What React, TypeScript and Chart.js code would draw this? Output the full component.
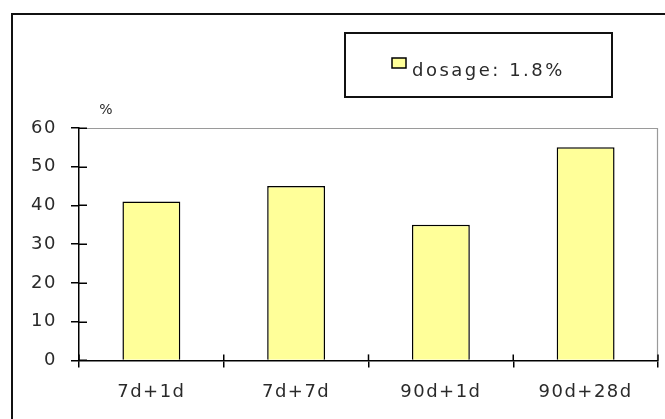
import React, { useEffect, useRef } from 'react';
import { Chart, registerables } from 'chart.js';

Chart.register(...registerables);

const categories = ['7d+1d', '7d+7d', '90d+1d', '90d+28d'];
const dosageValues = [41, 45, 35, 55];
const seriesLabel = 'dosage: 1.8%';
const yMin = 0;
const yMax = 60;
const yStep = 10;
const yUnit = '%';

const FONT = '"DejaVu Sans", sans-serif';
const TEXT = '#2a2a2a';
const BAR = '#FFFF99';
const SPACING = '1.5px';

export default function App() {
  const ref = useRef<HTMLCanvasElement>(null);

  useEffect(() => {
    document.body.style.margin = '0';
    const canvas = ref.current;
    if (!canvas) return;

    const spacing = {
      id: 'spacing',
      beforeLayout(c: any) { (c.ctx as any).letterSpacing = SPACING; },
      beforeDraw(c: any) { (c.ctx as any).letterSpacing = SPACING; },
    };

    const decor = {
      id: 'decor',
      beforeDraw(c: any) {
        const ctx = c.ctx as CanvasRenderingContext2D;
        const a = c.chartArea;
        ctx.save();
        ctx.fillStyle = '#ffffff';
        ctx.fillRect(0, 0, c.width, c.height);
        // outer frame
        ctx.strokeStyle = '#111111';
        ctx.lineWidth = 2;
        ctx.beginPath();
        ctx.moveTo(12, c.height);
        ctx.lineTo(12, 14);
        ctx.lineTo(c.width, 14);
        ctx.stroke();
        // plot area top/right border
        ctx.strokeStyle = '#9a9a9a';
        ctx.lineWidth = 1.2;
        ctx.beginPath();
        ctx.moveTo(a.left, a.top + 0.5);
        ctx.lineTo(a.right - 0.5, a.top + 0.5);
        ctx.lineTo(a.right - 0.5, a.bottom);
        ctx.stroke();
        ctx.restore();
      },
      afterDraw(c: any) {
        const ctx = c.ctx as CanvasRenderingContext2D;
        const a = c.chartArea;
        const ys = c.scales.y;
        const xs = c.scales.x;
        ctx.save();
        ctx.strokeStyle = '#000000';
        ctx.lineWidth = 1.5;
        // inward halves of the crossing ticks
        ys.ticks.forEach((_t: any, i: number) => {
          const py = Math.round(ys.getPixelForTick(i)) + 0.25;
          ctx.beginPath();
          ctx.moveTo(a.left, py);
          ctx.lineTo(a.left + 8, py);
          ctx.stroke();
        });
        for (let i = 0; i <= categories.length; i++) {
          const px = xs.getPixelForValue(i - 0.5);
          ctx.beginPath();
          ctx.moveTo(px, a.bottom);
          ctx.lineTo(px, a.bottom - 6);
          ctx.stroke();
        }
        // unit label
        (ctx as any).letterSpacing = '0px';
        ctx.fillStyle = TEXT;
        ctx.font = `14px ${FONT}`;
        ctx.textAlign = 'center';
        ctx.textBaseline = 'middle';
        ctx.fillText(yUnit, 106, 110);
        // legend box
        const ds = c.data.datasets[0];
        ctx.strokeStyle = '#111111';
        ctx.lineWidth = 2;
        ctx.strokeRect(345, 33, 267, 64);
        ctx.fillStyle = ds.backgroundColor;
        ctx.fillRect(392, 58, 14, 10);
        ctx.lineWidth = 1.5;
        ctx.strokeStyle = '#000000';
        ctx.strokeRect(392, 58, 14, 10);
        (ctx as any).letterSpacing = '2.5px';
        ctx.fillStyle = TEXT;
        ctx.font = `18px ${FONT}`;
        ctx.textAlign = 'left';
        ctx.textBaseline = 'alphabetic';
        ctx.fillText(ds.label, 412, 76);
        ctx.restore();
      },
    };

    const chart = new Chart(canvas, {
      type: 'bar',
      data: {
        labels: categories,
        datasets: [
          {
            label: seriesLabel,
            data: dosageValues,
            backgroundColor: BAR,
            borderColor: '#000000',
            borderWidth: 1.5,
            barPercentage: 0.4,
            categoryPercentage: 1.0,
          },
        ],
      },
      options: {
        animation: false,
        responsive: false,
        maintainAspectRatio: false,
        layout: { padding: { top: 128, right: 7, bottom: 2, left: 0 } },
        plugins: {
          legend: { display: false },
          tooltip: { enabled: false },
        },
        scales: {
          x: {
            offset: true,
            grid: {
              display: true,
              offset: true,
              drawOnChartArea: false,
              tickLength: 7,
              color: '#000000',
              lineWidth: 1.5,
            },
            border: { display: true, color: '#000000', width: 1.5 },
            ticks: {
              color: TEXT,
              font: { family: FONT, size: 18 },
              padding: 14,
              maxRotation: 0,
            },
          },
          y: {
            min: yMin,
            max: yMax,
            afterFit(scale: any) { scale.width = 79; },
            grid: {
              display: true,
              drawOnChartArea: false,
              tickLength: 8,
              color: '#000000',
              lineWidth: 1.5,
            },
            border: { display: true, color: '#000000', width: 1.5 },
            ticks: {
              stepSize: yStep,
              color: TEXT,
              font: { family: FONT, size: 18 },
              padding: 14,
            },
          },
        },
      },
      plugins: [spacing, decor],
    });

    return () => chart.destroy();
  }, []);

  return <canvas ref={ref} width={665} height={419} style={{ display: 'block' }} />;
}
